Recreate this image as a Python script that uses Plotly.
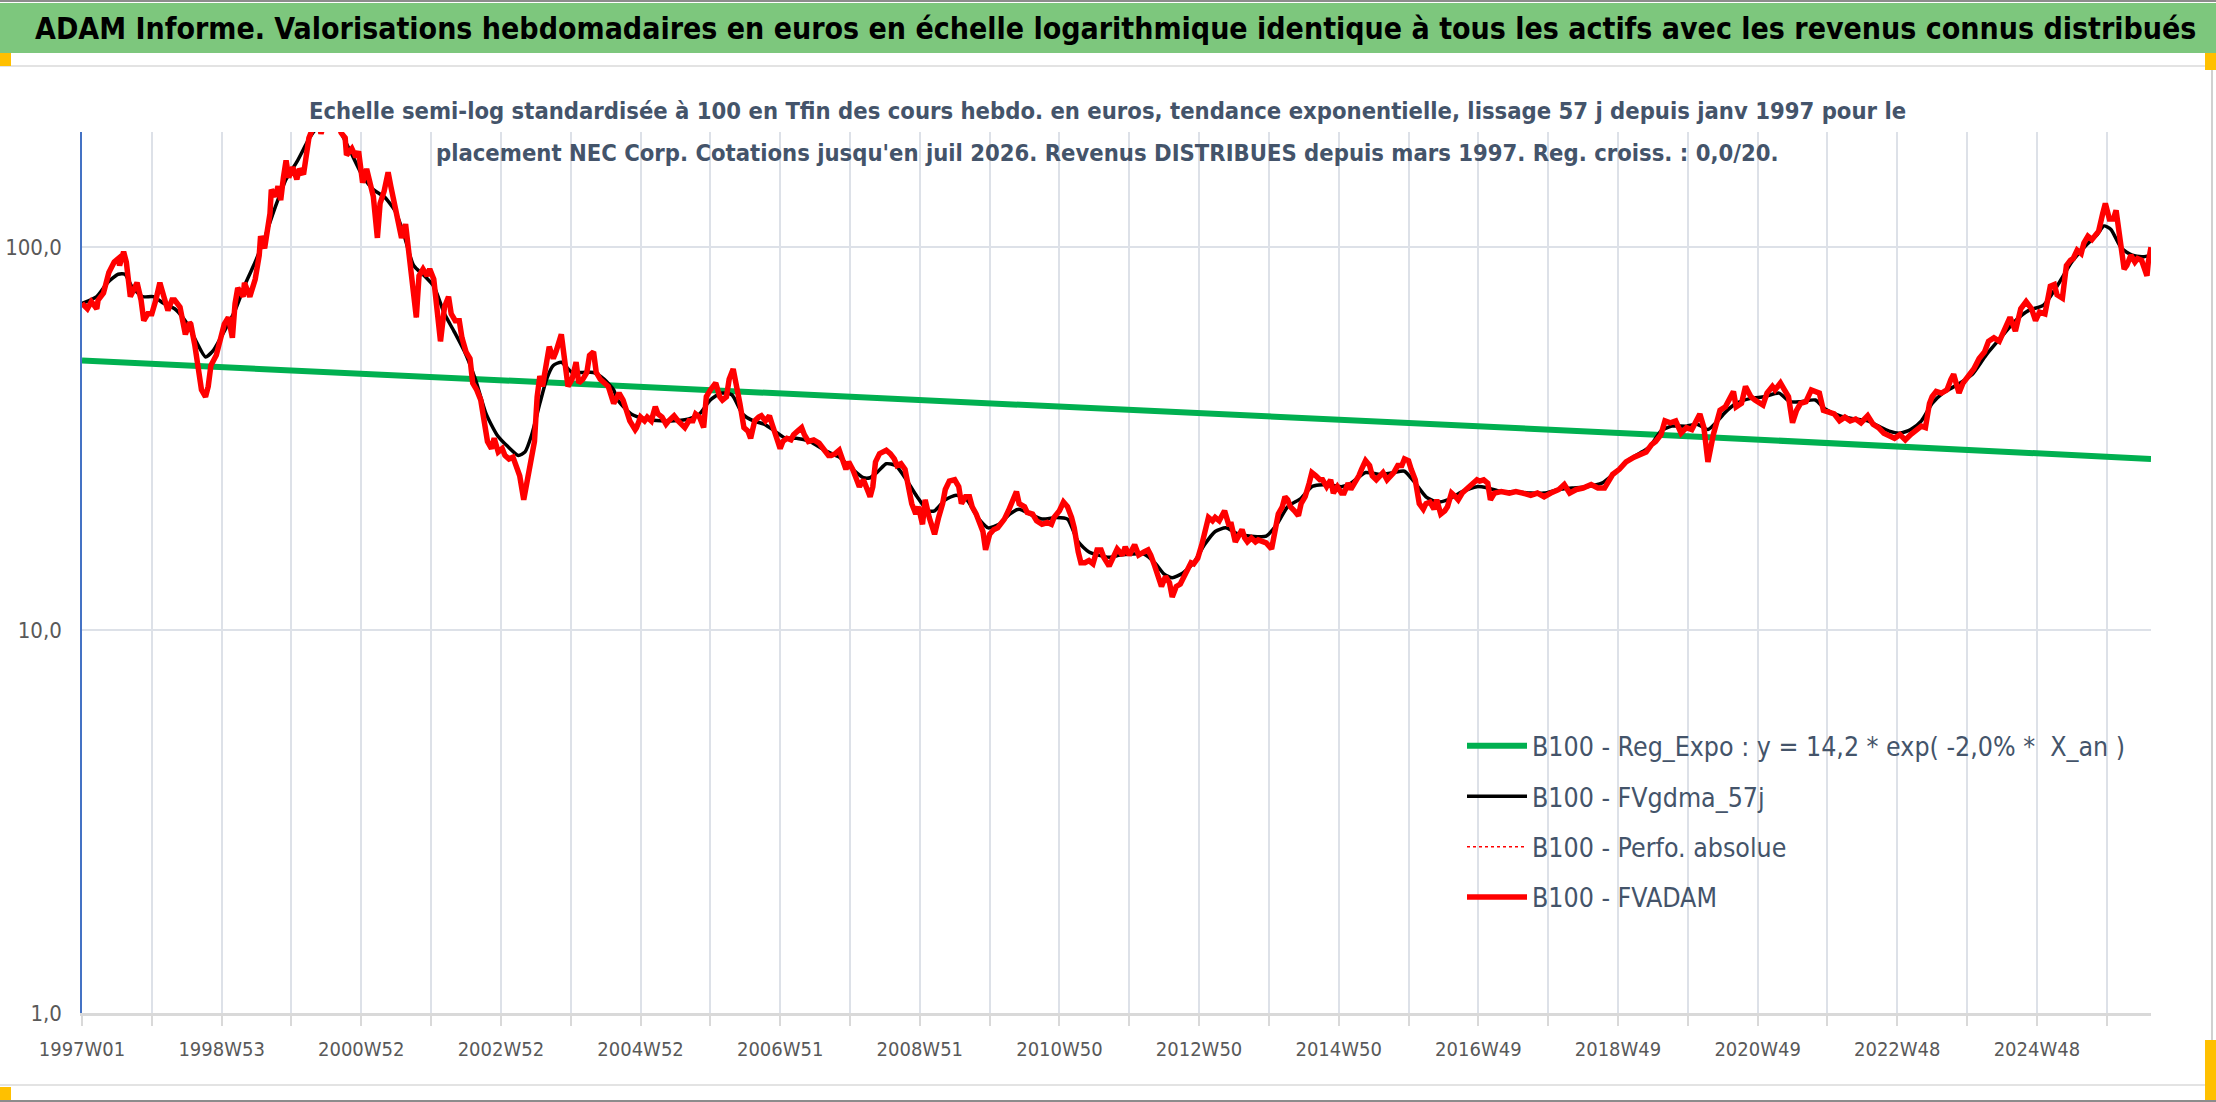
import plotly.graph_objects as go

# weekly index 0 = 1997W01, last point = juil 2026
tick_labels = ["1997W01", "1998W53", "2000W52", "2002W52", "2004W52", "2006W51",
               "2008W51", "2010W50", "2012W50", "2014W50", "2016W49", "2018W49",
               "2020W49", "2022W48", "2024W48"]
n_weeks = 1542

# B100 - FVADAM
fvadam_w = [0, 4, 7, 11, 12, 16, 20, 24, 27, 28, 31, 33, 36, 39, 41, 44, 46, 49, 52, 55, 58, 61, 64, 67, 69, 73,
            76, 77, 80, 81, 84, 86, 89, 92, 94, 96, 100, 102, 106, 109, 112, 114, 116, 120, 121, 125, 129, 132, 133,
            136, 140, 141, 144, 146, 148, 150, 152, 154, 157, 160, 162, 165, 167, 169, 172, 175, 178, 182, 187, 191,
            193, 196, 197, 201, 204, 206, 209, 212, 214, 217, 220, 222, 225, 228, 230, 233, 235, 238, 241, 243, 246,
            249, 251, 254, 257, 259, 262, 265, 267, 270, 273, 275, 278, 281, 283, 286, 289, 291, 294, 297, 299, 302,
            305, 307, 310, 313, 315, 318, 321, 323, 326, 329, 331, 334, 337, 339, 341, 343, 346, 348, 351, 353, 357,
            359, 362, 365, 368, 370, 373, 376, 378, 381, 383, 386, 390, 392, 396, 400,
            403, 405, 408, 412, 413, 416, 419, 421, 424, 427, 429, 432, 435, 437, 441, 444, 447, 449, 452, 455, 457,
            460, 463, 465, 468, 472, 475, 477, 480, 482, 485, 488, 490, 493, 496, 498, 501, 504, 506, 509, 512, 514,
            517, 520, 522, 525, 528, 530, 533, 536, 538, 541, 545, 549, 553, 556, 558, 561, 564, 566, 569, 571, 574,
            577, 579, 582, 585, 587, 589, 591, 594, 597, 599, 602, 605, 607, 610, 613, 615, 618, 621, 623, 626, 628,
            631, 635, 638, 641, 643, 646, 650, 653, 655, 658, 661, 663, 666, 668, 671, 673, 676, 679, 682, 684, 687,
            690, 693, 696, 698, 702, 704, 708, 711, 715, 719, 722, 724, 728, 731, 734, 737, 739, 742, 744, 747, 750,
            753, 756, 759, 761, 765, 768, 771, 775, 777, 780, 784, 787,
            788, 791, 794, 796, 799, 802, 804, 807, 810, 812, 815, 818, 820, 823, 826, 828, 831, 834, 836, 839, 842,
            844, 847, 851, 854, 856, 859, 862, 864, 866, 868, 871, 874, 876, 879, 882, 886, 888, 891, 894, 896, 898,
            900, 903, 906, 908, 911, 914, 916, 919, 922, 924, 927, 930, 932, 935, 938, 940, 943, 945, 948, 951, 953,
            956, 959, 961, 964, 967, 969, 972, 975, 977, 980, 983, 985, 988, 990, 993, 996, 999, 1001, 1004, 1007,
            1009, 1012, 1015, 1017, 1020, 1023, 1025, 1028, 1031, 1033, 1036, 1039, 1041, 1044, 1047, 1049, 1052,
            1057, 1063, 1068, 1073, 1079, 1084, 1089, 1094, 1100, 1104, 1108, 1113, 1118, 1124, 1129, 1134, 1140,
            1145, 1150, 1156, 1161, 1165, 1169,
            1172, 1176, 1179, 1183, 1187, 1191, 1195, 1199, 1203, 1205, 1208, 1211, 1215, 1217, 1220, 1224, 1227,
            1230, 1232, 1236, 1239, 1243, 1246, 1249, 1252, 1255, 1259, 1261, 1265, 1268, 1271, 1274, 1277, 1280,
            1284, 1288, 1292, 1294, 1297, 1301, 1305, 1309, 1313, 1317, 1321, 1325, 1330, 1334, 1338, 1342, 1346,
            1350, 1354, 1358, 1362, 1366, 1370, 1373, 1376, 1378, 1381, 1385, 1389, 1392, 1394, 1398, 1401, 1405,
            1409, 1413, 1417, 1420, 1424, 1428, 1432, 1436, 1440, 1444, 1448, 1452, 1455, 1458, 1462, 1466, 1469,
            1471, 1475, 1478, 1481, 1483, 1486, 1489, 1491, 1494, 1497, 1499, 1502, 1505, 1507, 1510, 1513, 1515,
            1518, 1521, 1523, 1526, 1529, 1531, 1534, 1537, 1538, 1539, 1540, 1541]
fvadam_v = [71.3, 69.1, 72.1, 69.1, 72.8, 75.9, 85.9, 91.5, 93.4, 89.6, 97.3, 91.5, 74.3, 79.1, 80.8, 72.8, 64.3,
            67.0, 67.0, 72.8, 80.8, 74.3, 68.4, 72.8, 72.8, 69.8, 63.0, 59.2, 63.6, 63.0, 55.6, 49.1, 42.4, 40.7,
            43.3, 49.1, 52.2, 55.6, 63.0, 65.6, 58.0, 71.3, 78.3, 74.3, 80.8, 74.3, 82.5, 95.3, 106.9, 99.4, 122.3,
            141.4, 135.6, 144.4, 132.8, 152.0, 168.7, 152.0, 161.8, 150.5, 160.2, 155.0, 174.0, 193.0, 205.0, 225.0,
            198.0, 220.0, 235.0, 212.0, 199.0, 193.0, 174.0, 181.0, 172.0, 178.0, 147.4, 160.2, 147.4, 135.6, 105.8,
            130.1, 140.0, 156.9, 144.4, 127.5, 117.3, 105.8, 114.9, 99.4, 82.5, 65.6, 84.2, 87.7, 84.2, 87.7, 82.5,
            68.4, 56.8, 69.8, 74.3, 67.0, 64.3, 64.3, 58.0, 53.3, 51.2, 44.2, 42.4, 39.9, 35.2, 31.1, 29.8, 31.7,
            29.2, 29.8, 28.6, 28.0, 28.3, 26.9, 25.3, 21.9, 24.2, 28.0, 31.1, 40.7, 46.1, 43.3, 51.2, 55.0, 51.2,
            53.3, 59.2, 52.2, 43.3, 45.2, 50.1, 44.2, 45.2, 47.1, 52.2, 53.3, 47.1, 45.2, 44.2, 43.3, 39.1, 41.6,
            39.9, 37.5, 35.2, 33.4, 33.8, 36.0, 35.2, 36.0, 35.2, 38.3, 36.7, 36.0, 34.5, 35.2, 36.3, 35.2, 34.1,
            33.8, 35.2, 35.2, 36.7, 36.0, 33.8, 40.7, 42.4, 44.2, 40.7, 39.9, 40.7, 45.2, 48.1, 43.3, 39.1, 33.8,
            33.1, 31.7, 35.2, 36.0, 36.3, 35.2, 36.3, 34.5, 31.7, 29.8, 31.1, 31.7, 31.4, 32.4, 33.1, 33.8, 32.4,
            31.1, 31.4, 30.8, 29.5, 28.6, 28.6, 28.9, 29.5, 28.0, 26.3, 27.5, 26.3, 24.7, 23.7, 24.7, 23.3, 22.3,
            23.7, 27.5, 28.9, 29.2, 29.5, 28.9, 28.0, 26.9, 27.2, 26.3, 24.2, 21.4, 20.1, 21.0, 18.9, 21.9, 19.7,
            17.8, 19.7, 21.4, 23.3, 24.5, 24.7, 23.7, 21.4, 22.3, 22.3, 21.0, 20.1, 19.3, 18.1, 16.2, 17.8, 18.3,
            18.5, 18.9, 19.5, 20.5, 21.9, 23.0, 21.4, 21.0, 20.3, 20.1, 19.3, 18.9, 19.1, 18.9, 19.7, 20.5, 21.6,
            21.0, 19.7, 18.5, 16.0, 15.0, 15.0, 15.2, 14.9, 16.2, 16.2, 15.5, 14.7, 15.4, 16.3, 15.7, 16.5, 15.7,
            16.7, 15.7,
            15.8, 16.0, 16.2, 15.7, 14.7, 13.8, 13.0, 13.8, 13.3, 12.2, 13.0, 13.2, 13.6, 14.4, 15.0, 14.9, 15.4,
            16.7, 17.8, 19.7, 19.3, 19.7, 19.3, 20.5, 18.9, 18.9, 17.0, 17.8, 18.3, 17.4, 17.0, 17.4, 17.0, 17.2,
            17.0, 16.9, 16.3, 18.1, 20.1, 21.0, 22.3, 21.9, 21.0, 20.5, 19.9, 21.4, 22.3, 24.2, 25.8, 25.3, 24.7,
            24.7, 23.7, 24.7, 22.8, 23.7, 22.8, 22.8, 24.2, 23.3, 24.2, 25.3, 26.3, 27.7, 26.9, 25.3, 24.7, 25.3,
            25.8, 24.7, 25.3, 25.8, 26.9, 26.9, 28.0, 27.7, 26.3, 24.7, 21.4, 20.7, 21.4, 21.6, 20.7, 21.9, 20.1,
            20.5, 21.0, 22.8, 22.3, 21.9, 22.8, 23.3, 23.7, 24.2, 24.7, 24.5, 24.7, 24.2, 21.9, 22.8, 23.0, 22.8,
            23.0, 22.8, 22.5, 22.8, 22.3, 22.8, 23.3, 24.0, 22.8, 23.3, 23.5, 24.0, 23.5, 23.5, 25.5, 26.3, 27.5,
            28.3, 28.9, 29.2, 30.5,
            31.1, 32.4, 35.2, 34.8, 35.2, 32.7, 33.8, 33.4, 36.0, 36.7, 33.8, 27.5, 32.4, 34.5, 37.5, 38.3, 39.9,
            42.0, 38.3, 39.1, 43.3, 40.7, 39.9, 39.1, 38.7, 41.6, 43.3, 42.4, 44.2, 42.4, 40.7, 34.8, 37.5, 39.1,
            39.5, 42.4, 41.6, 41.6, 37.5, 37.1, 36.7, 35.2, 36.0, 35.2, 35.6, 34.8, 36.3, 34.5, 33.8, 32.7, 32.1,
            31.7, 32.4, 31.4, 32.4, 33.1, 34.1, 33.8, 39.1, 40.7, 42.0, 41.6, 42.4, 45.2, 46.6, 41.6, 44.2, 46.1,
            48.1, 51.2, 53.3, 56.8, 58.0, 56.8, 61.7, 65.6, 60.4, 69.1, 72.1, 69.1, 64.3, 67.7, 67.0, 79.1, 79.9,
            75.1, 73.6, 89.6, 92.4, 93.4, 98.3, 96.3, 102.5, 106.9, 104.7, 106.9, 110.2, 122.3, 130.1, 118.5, 118.5,
            124.9, 105.8, 87.7, 89.6, 95.3, 91.5, 93.4, 92.4, 86.8, 84.2, 91.5, 96.3, 100.0]

# B100 - FVgdma_57j (smoothed)
gdma_w = [0, 11, 19, 27, 32, 37, 45, 53, 61, 69, 75, 80, 85, 92, 98, 106, 114, 122, 129, 136, 144, 152, 160, 168,
          172, 180, 188, 193, 200, 209, 217, 225, 233, 239, 247, 255, 262, 270, 277, 285, 293, 301, 309, 317, 325,
          330, 335, 341, 346, 351, 357, 365, 373, 381, 389, 396,
          399, 409, 420, 431, 441, 452, 460, 468, 476, 484, 492, 500, 508, 516, 524, 532, 542, 553, 564, 574, 582,
          587, 593, 599, 606, 614, 622, 630, 635, 643, 651, 659, 667, 675, 683, 691, 698, 706, 715, 726, 734, 742,
          750, 757, 765, 773, 781,
          791, 799, 806, 812, 820, 828, 836, 844, 852, 860, 871, 882, 890, 898, 908, 916, 927, 938, 945, 956, 967,
          977, 985, 993, 1001, 1009, 1017, 1028, 1039, 1047, 1057, 1068, 1079, 1089, 1100, 1110, 1121, 1132, 1142,
          1153, 1164,
          1168, 1176, 1184, 1195, 1203, 1211, 1217, 1224, 1232, 1243, 1253, 1264, 1272, 1280, 1291, 1298, 1309,
          1320, 1330, 1338, 1346, 1354, 1362, 1370, 1378, 1386, 1397, 1408, 1418, 1429, 1440, 1450, 1461, 1471,
          1482, 1493, 1501, 1506, 1511, 1519, 1527, 1535, 1541]
gdma_v = [71.3, 74.3, 80.8, 85.0, 85.0, 79.1, 74.3, 74.3, 71.3, 69.1, 65.6, 61.7, 56.8, 51.7, 53.9, 60.4, 68.4,
          80.8, 91.5, 105.8, 127.5, 150.5, 167.0, 189.0, 199.0, 215.0, 215.0, 199.0, 177.7, 153.6, 141.4, 135.6,
          124.9, 110.2, 89.6, 84.2, 79.1, 67.0, 60.4, 53.3, 45.2, 36.7, 32.4, 30.2, 28.6, 29.2, 32.4, 39.1, 45.2,
          49.1, 50.1, 47.1, 47.1, 47.1, 45.2, 42.4,
          39.9, 36.7, 35.6, 35.2, 35.2, 35.6, 36.7, 39.9, 41.6, 41.2, 36.7, 35.2, 34.5, 33.1, 31.7, 31.7, 31.1,
          29.5, 28.3, 26.3, 25.0, 25.0, 26.0, 27.2, 26.9, 24.7, 22.3, 20.5, 20.5, 21.9, 22.5, 21.9, 19.7, 18.5,
          18.9, 20.1, 20.7, 20.1, 19.5, 19.7, 19.5, 17.0, 16.0, 15.7, 15.5, 15.7, 15.8,
          15.8, 15.0, 14.0, 13.7, 14.1, 15.0, 16.7, 18.1, 18.5, 17.9, 17.6, 17.6, 18.9, 21.0, 22.1, 23.7, 24.0,
          23.7, 24.2, 25.8, 25.5, 25.8, 26.0, 24.2, 22.3, 21.6, 21.9, 23.0, 23.7, 23.5, 23.0, 23.0, 22.8, 22.8,
          23.3, 23.5, 23.7, 24.2, 25.8, 28.0, 29.5,
          30.2, 33.1, 34.1, 34.1, 34.5, 33.4, 34.8, 37.1, 39.1, 40.3, 40.7, 41.6, 39.5, 39.5, 39.9, 37.9, 36.3,
          35.6, 35.2, 34.1, 33.1, 32.7, 33.4, 35.2, 39.1, 41.6, 43.8, 46.6, 52.2, 58.0, 64.3, 68.4, 70.6, 79.1,
          91.5, 101.5, 108.0, 113.7, 111.4, 99.4, 95.3, 94.4, 95.3]

# B100 - Reg_Expo
trend_w = [0, 400, 780, 1196, 1541]
trend_v = [50.6, 43.5, 37.9, 32.1, 28.0]

W, H = 2216, 1102
L, R, T, B = 82, 2151, 132, 1013
FONT = "Liberation Sans Narrow, Arial Narrow, DejaVu Sans Condensed, sans-serif"
SLATE = "#44546A"
TICK = "#595959"


def px(x):
    return (x - L) / (R - L)


def py(y):
    return (B - y) / (B - T)


fig = go.Figure()
fig.add_trace(go.Scatter(x=trend_w, y=trend_v, mode="lines", name="B100 - Reg_Expo : y = 14,2 * exp( -2,0% *  X_an )",
                         line=dict(color="#00B050", width=6), legendgroup="a"))
fig.add_trace(go.Scatter(x=gdma_w, y=gdma_v, mode="lines", name="B100 - FVgdma_57j",
                         line=dict(color="black", width=3.5, shape="spline", smoothing=0.6), legendgroup="b"))
fig.add_trace(go.Scatter(x=fvadam_w, y=fvadam_v, mode="lines", name="B100 - Perfo. absolue",
                         line=dict(color="#FF0000", width=1.5, dash="dot"), legendgroup="c"))
fig.add_trace(go.Scatter(x=fvadam_w, y=fvadam_v, mode="lines", name="B100 - FVADAM",
                         line=dict(color="#FF0000", width=5.5), legendgroup="d"))

grid_vals = list(range(0, n_weeks, 52))
grid_text = [tick_labels[i // 2] if i % 2 == 0 and i // 2 < len(tick_labels) else "" for i in range(len(grid_vals))]

fig.update_xaxes(range=[0, n_weeks - 1], tickvals=grid_vals, ticktext=grid_text,
                 showgrid=True, gridcolor="#DDE1E8", gridwidth=1.5,
                 showline=True, linecolor="#D9D9D9", linewidth=2.5,
                 ticks="outside", ticklen=10, tickcolor="#D9D9D9", tickwidth=1.5,
                 ticklabelstandoff=6, automargin=False,
                 tickfont=dict(family=FONT, size=20, color=TICK), zeroline=False)
fig.update_yaxes(type="log", range=[0, 2.30103], tickvals=[1, 10, 100], ticktext=["1,0", "10,0", "100,0"],
                 showgrid=True, gridcolor="#DDE1E8", gridwidth=2,
                 showline=True, linecolor="#4472C4", linewidth=1.5, ticks="",
                 ticklabelstandoff=14, automargin=False,
                 tickfont=dict(family=FONT, size=22, color=TICK), zeroline=False)

shapes = [
    # green title band
    dict(type="rect", xref="paper", yref="paper", x0=px(0), x1=px(W), y0=py(53), y1=py(3),
         fillcolor="#7DC77D", line=dict(width=0), layer="below"),
    dict(type="line", xref="paper", yref="paper", x0=px(0), x1=px(W), y0=py(1), y1=py(1),
         line=dict(color="#8C8C8C", width=2)),
    dict(type="line", xref="paper", yref="paper", x0=px(0), x1=px(2212), y0=py(66), y1=py(66),
         line=dict(color="#E3E3E3", width=2)),
    dict(type="line", xref="paper", yref="paper", x0=px(0), x1=px(2212), y0=py(1085), y1=py(1085),
         line=dict(color="#E3E3E3", width=2)),
    dict(type="line", xref="paper", yref="paper", x0=px(2212), x1=px(2212), y0=py(66), y1=py(1085),
         line=dict(color="#D0D0D0", width=2)),
    dict(type="line", xref="paper", yref="paper", x0=px(0), x1=px(W), y0=py(1101), y1=py(1101),
         line=dict(color="#8C8C8C", width=2)),
]
# selection handles
for x0, y0, x1, y1 in [(0, 53, 11, 66), (2205, 53, 2216, 70), (0, 1087, 11, 1100), (2205, 1040, 2216, 1100)]:
    shapes.append(dict(type="rect", xref="paper", yref="paper", x0=px(x0), x1=px(x1), y0=py(y1), y1=py(y0),
                       fillcolor="#FFC000", line=dict(width=0)))

annotations = [
    dict(text="<b>ADAM Informe. Valorisations hebdomadaires en euros en échelle logarithmique identique à tous les actifs avec les revenus connus distribués</b>",
         xref="paper", yref="paper", x=px(33), y=py(28), xanchor="left", yanchor="middle", showarrow=False,
         font=dict(family=FONT, size=30, color="black")),
    dict(text="<b>Echelle semi-log standardisée à 100 en Tfin des cours hebdo. en euros, tendance exponentielle, lissage 57 j depuis janv 1997 pour le</b>",
         xref="paper", yref="paper", x=px(1107), y=py(111), xanchor="center", yanchor="middle", showarrow=False,
         font=dict(family=FONT, size=23.6, color=SLATE)),
    dict(text="<b>placement NEC Corp. Cotations jusqu'en juil 2026. Revenus DISTRIBUES depuis mars 1997. Reg. croiss. : 0,0/20.</b>",
         xref="paper", yref="paper", x=px(1107), y=py(153), xanchor="center", yanchor="middle", showarrow=False,
         font=dict(family=FONT, size=23.6, color=SLATE)),
]

fig.update_layout(
    width=W, height=H,
    margin=dict(l=L, r=W - R, t=T, b=H - B),
    paper_bgcolor="white", plot_bgcolor="white",
    showlegend=True,
    legend=dict(x=px(1462), y=py(722), xanchor="left", yanchor="top", bgcolor="rgba(0,0,0,0)",
                font=dict(family=FONT, size=26.5, color=SLATE), itemwidth=60,
                traceorder="grouped", tracegroupgap=13),
    shapes=shapes,
    annotations=annotations,
)

# page body margin would offset the figure by 8px
fig.write_html("out.html", config={"displayModeBar": False},
               post_script="document.body.style.margin='0';")
